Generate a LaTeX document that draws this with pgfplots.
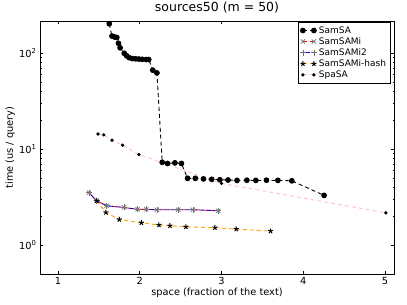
\documentclass[border=0pt]{standalone}
\usepackage{fontspec}
\setmainfont{DejaVu Sans}
\usepackage{pgfplots}
\pgfplotsset{compat=1.18}
\definecolor{mplorange}{RGB}{255,165,0}
\definecolor{mplpink}{RGB}{255,192,203}
\begin{document}
\begin{tikzpicture}[x=1pt,y=1pt]
\useasboundingbox (0,0) rectangle (407,305);
\begin{axis}[
  at={(40pt,31pt)}, anchor=south west,
  scale only axis, width=354pt, height=253pt,
  xmin=0.78, xmax=5.11,
  ymode=log, ymin=0.5, ymax=217,
  xtick={1,2,3,4,5},
  ytick={1,10,100},
  yticklabels={10\textsuperscript{0},10\textsuperscript{1},10\textsuperscript{2}},
  /pgf/number format/assume math mode=true,
  tick label style={font=\fontsize{9.8}{11}\selectfont},
  major tick length=3pt, minor tick length=1.5pt,
  every tick/.style={black, line width=0.5pt},
  axis line style={line width=0.8pt},
  title={sources50 (m = 50)},
  title style={font=\fontsize{12.5}{14}\selectfont, at={(0.5,1)}, anchor=base, inner sep=0pt, yshift=3pt},
  xlabel={space (fraction of the text)},
  ylabel={time (us / query)},
  label style={font=\fontsize{9.8}{11}\selectfont},
  xlabel style={at={(0.5,0)}, anchor=north, yshift=-14pt, inner sep=0pt},
  ylabel style={at={(0,0.5)}, anchor=south, yshift=25pt, inner sep=0pt},
  legend style={at={(0.99,0.996)}, anchor=north east, draw=black, line width=0.8pt,
    font=\fontsize{9}{10}\selectfont, cells={anchor=west}, row sep=-1.2pt, inner sep=2pt},
  legend image code/.code={\draw[#1] plot coordinates {(0pt,0pt) (11pt,0pt)};},
  every axis plot/.append style={line width=0.9pt, dash pattern=on 4pt off 3pt},
]
\addplot[black, mark=*, mark size=2.4pt, mark options={solid, fill=black}] coordinates {
(1.627,203) (1.66,151) (1.69,148) (1.72,146) (1.74,127) (1.76,114) (1.81,100) (1.84,94)
(1.87,90) (1.91,88) (1.95,87.5) (1.99,87) (2.03,86.5) (2.08,86) (2.11,86) (2.16,66.6)
(2.21,62.4) (2.275,7.3) (2.34,7.1) (2.43,7.2) (2.51,7.1) (2.585,4.97) (2.68,4.97)
(2.78,4.9) (2.88,4.85) (2.98,4.8) (3.08,4.77) (3.19,4.73) (3.31,4.75) (3.42,4.73)
(3.55,4.75) (3.69,4.73) (3.86,4.68) (4.255,3.3)
};
\addlegendentry{SamSA}
\addplot[red, mark=x, mark size=3pt, mark options={solid, draw=black!55, line width=0.7pt}] coordinates {
(1.379,3.52) (1.473,2.90) (1.595,2.57) (1.807,2.47) (1.974,2.36) (2.08,2.36)
(2.21,2.34) (2.47,2.34) (2.65,2.34) (2.96,2.28)
};
\addlegendentry{SamSAMi}
\addplot[blue, mark=+, mark size=3pt, dash phase=3.5pt, mark options={solid, draw=black!55, line width=0.7pt}] coordinates {
(1.379,3.52) (1.473,2.90) (1.595,2.57) (1.807,2.47) (1.974,2.36) (2.08,2.36)
(2.21,2.34) (2.47,2.34) (2.65,2.34) (2.96,2.28)
};
\addlegendentry{SamSAMi2}
\addplot[mplorange, mark=star, mark size=2.6pt, mark options={solid, draw=black, line width=1pt}] coordinates {
(1.473,2.90) (1.587,2.19) (1.75,1.85) (2.02,1.71) (2.235,1.62) (2.37,1.59)
(2.565,1.55) (2.92,1.52) (3.18,1.47) (3.60,1.40)
};
\addlegendentry{SamSAMi-hash}
\addplot[mplpink, mark=*, mark size=1.2pt, mark options={solid, draw=black, fill=black}] coordinates {
(1.49,14.4) (1.56,14.1) (1.66,12.4) (1.79,11.0) (1.99,8.8) (3.0,4.4) (5.01,2.17)
};
\addlegendentry{SpaSA}
\end{axis}
\end{tikzpicture}
\end{document}
